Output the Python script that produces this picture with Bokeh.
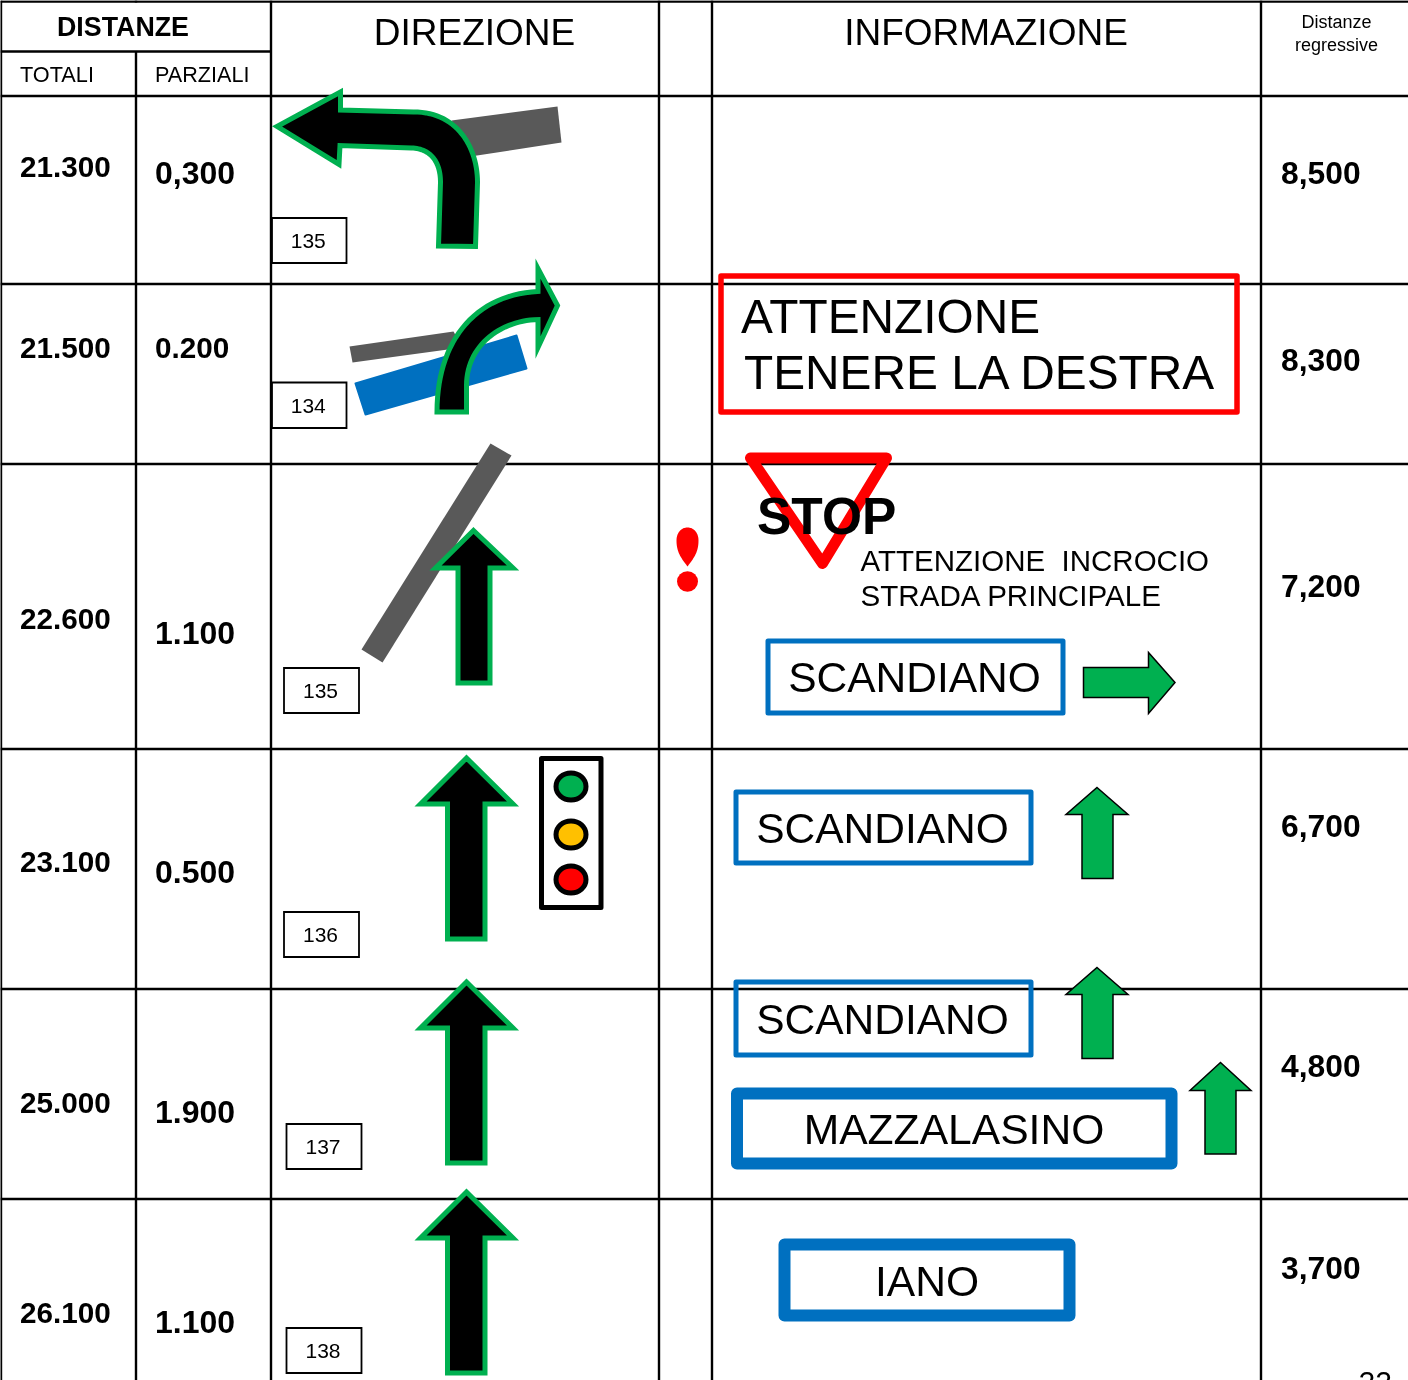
from bokeh.plotting import figure
from bokeh.embed import file_html
from bokeh.resources import INLINE
from bokeh.core.properties import value
import numpy as np

totals = ["21.300", "21.500", "22.600", "23.100", "25.000", "26.100"]
partials = ["0,300", "0.200", "1.100", "0.500", "1.900", "1.100"]
regressive = ["8,500", "8,300", "7,200", "6,700", "4,800", "3,700"]
box_numbers = ["135", "134", "135", "136", "137", "138"]
headers = ["DIREZIONE", "INFORMAZIONE"]
warning_lines = ["ATTENZIONE", "TENERE LA DESTRA"]
crossing_lines = ["ATTENZIONE \u00a0INCROCIO", "STRADA PRINCIPALE"]
places = ["SCANDIANO", "SCANDIANO", "SCANDIANO", "MAZZALASINO", "IANO"]

FONT = "Liberation Sans"
BLACK, GREEN, BLUE, RED, GREY, AMBER = "#000000", "#00B050", "#0070C0", "#FF0000", "#595959", "#FFC000"

p = figure(width=1408, height=1380, x_range=(0, 1408), y_range=(1380, 0),
           x_axis_type=None, y_axis_type=None, toolbar_location=None,
           output_backend="svg", min_border=0, outline_line_color=None,
           background_fill_color="#FFFFFF", border_fill_color="#FFFFFF",
           styles={"position": "fixed", "left": "0px", "top": "0px"})
p.grid.visible = False


def txt(x, y, s, size, bold=False, align="left", color=BLACK):
    # y is the wanted baseline; the svg output centres capitals on the given y
    p.text([x], [y - 0.36 * size], text=[s], text_font=value(FONT), text_font_size=f"{size}px",
           text_font_style="bold" if bold else "normal", text_align=align,
           text_baseline="alphabetic", text_color=color)


def seg(x0, y0, x1, y1, w=2.4):
    p.segment([x0], [y0], [x1], [y1], line_color=BLACK, line_width=w)


def curve(a, b, c, d, n=30):
    t = np.linspace(0, 1, n)[1:]
    a, b, c, d = map(np.array, (a, b, c, d))
    return [tuple(v) for v in ((1-t)[:, None]**3*a + 3*((1-t)**2*t)[:, None]*b
                               + 3*((1-t)*t**2)[:, None]*c + (t**3)[:, None]*d)]


def poly(pts, fill=None, line=None, w=0, join="miter"):
    xs, ys = zip(*pts)
    p.patch(list(xs), list(ys), fill_color=fill, line_color=line, line_width=w, line_join=join)


def frame(x0, y0, x1, y1, color, w):
    poly([(x0, y0), (x1, y0), (x1, y1), (x0, y1)], None, color, w, "round")


def up_arrow(tip_x, tip_y, wx0, wx1, wy, sx0, sx1, by, fill, line, w):
    poly([(tip_x, tip_y), (wx1, wy), (sx1, wy), (sx1, by), (sx0, by), (sx0, wy), (wx0, wy)],
         fill, line, w)


def number_box(x0, y0, x1, y1, s):
    poly([(x0, y0), (x1, y0), (x1, y1), (x0, y1)], "#FFFFFF", BLACK, 1.8)
    txt((x0 + x1) / 2 - 1, y0 + 31, s, 21, align="center")


# table rules
for x in (0.5, 135.5, 270.5, 658.5, 711.5, 1260.5):
    seg(x, 51 if x == 135.5 else 0, x, 1380)
seg(135.5, 0, 135.5, 2)
for y in (95.5, 283.5, 463.5, 748.5, 988.5, 1198.5):
    seg(0, y, 1408, y)
seg(0, 1, 1408, 1)
seg(0, 51, 271, 51)

# headers
txt(56.5, 36, "DISTANZE", 26.8, True)
txt(19.5, 82, "TOTALI", 21.7)
txt(154.5, 82, "PARZIALI", 21.6)
txt(474, 45.5, headers[0], 37, align="center")
txt(985.5, 45.5, headers[1], 37, align="center")
txt(1336, 28, "Distanze", 18, align="center")
txt(1336, 51, "regressive", 18, align="center")

# distance columns
for s, y in zip(totals, (177, 358, 629.5, 872.5, 1113.5, 1323.5)):
    txt(19.5, y, s, 29.7, True)
for s, y, size in zip(partials, (184, 358.5, 644, 883, 1123, 1333), (32, 29.7, 32, 32, 32, 32)):
    txt(154.5, y, s, size, True)
for s, y in zip(regressive, (184, 371, 597, 837, 1077, 1279)):
    txt(1280.5, y, s, 31.8, True)
txt(1358, 1392, "22", 30)

# road stubs
poly([(451, 120), (557, 106), (561, 142), (470, 156)], GREY)
poly([(349, 346), (453, 331), (462, 347), (352, 362)], GREY)
poly([(355, 383), (516, 335), (526, 368), (365, 414)], BLUE, BLUE, 2, "round")
poly([(490, 443), (511, 455), (382, 662), (361, 649)], GREY)

# bent arrows
left_turn = [(276.5, 126), (340, 91.5), (340, 109.5), (413, 111.5)]
left_turn += curve((413, 111.5), (455, 111), (477, 145), (477, 182))
left_turn += [(475, 246), (438, 245.5), (440, 182)]
left_turn += curve((440, 182), (440, 160), (429, 148), (411, 147.5))
left_turn += [(339.5, 145), (338.5, 164)]
poly(left_turn, BLACK, GREEN, 5)

right_turn = [(557, 305), (537.5, 268), (537.5, 291)]
right_turn += curve((537.5, 291), (475, 294), (436.5, 340), (436.5, 411.5))
right_turn += [(466, 411.5), (466, 385)]
right_turn += curve((466, 385), (466, 345), (500, 320), (537.5, 319))
right_turn += [(537.5, 347)]
poly(right_turn, BLACK, GREEN, 5)

# straight arrows
up_arrow(473, 530, 435, 512.5, 567.5, 457.5, 489.5, 682.5, BLACK, GREEN, 5)
for dy in (0, 224, 434):
    up_arrow(466, 757.5 + dy, 420, 512.5, 803.5 + dy, 447, 484.5, 938.5 + dy, BLACK, GREEN, 5)

# number boxes
number_box(271.5, 217.5, 346, 262.5, box_numbers[0])
number_box(271.5, 382, 346, 427.5, box_numbers[1])
number_box(283.5, 667.5, 358.5, 712.5, box_numbers[2])
number_box(283.5, 911.5, 358.5, 956.5, box_numbers[3])
number_box(286, 1123.5, 361, 1168.5, box_numbers[4])
number_box(286, 1327.5, 361, 1372.5, box_numbers[5])

# traffic light
frame(541, 758, 600.5, 907, BLACK, 5)
for cy, c in zip((786, 834, 879), (GREEN, AMBER, RED)):
    p.ellipse([570.5], [cy], width=30, height=27, fill_color=c, line_color=BLACK, line_width=5)

# exclamation mark
drop = [(687, 566)]
drop += curve((687, 566), (681, 558), (676, 552), (676, 540))
drop += curve((676, 540), (676, 532), (681, 527), (687, 527))
drop += curve((687, 527), (693, 527), (698, 532), (698, 540))
drop += curve((698, 540), (698, 552), (693, 558), (687, 566))
poly(drop, RED)
p.ellipse([687], [581], width=21, height=20.5, fill_color=RED, line_color=None)

# warning box
frame(720.5, 275.5, 1236.5, 411.5, RED, 5.5)
txt(740.5, 333, warning_lines[0], 47.8)
txt(743.5, 389, warning_lines[1], 47.8)

# give-way sign
poly([(750, 457.5), (886, 457.5), (822, 563)], None, RED, 11, "round")
txt(756.5, 534, "STOP", 51.5, True)
txt(860, 571, crossing_lines[0], 29.5)
txt(860, 606, crossing_lines[1], 29.6)

# place signs
frame(767.5, 640.5, 1062.5, 712.5, BLUE, 5)
txt(914, 692, places[0], 42.5, align="center")
frame(735.5, 791.5, 1030.5, 862.5, BLUE, 5)
txt(882, 843, places[1], 42.5, align="center")
frame(735.5, 981.5, 1030.5, 1054.5, BLUE, 5)
txt(882, 1034, places[2], 42.5, align="center")
frame(736.5, 1093, 1171, 1163, BLUE, 12)
txt(953.5, 1144, places[3], 42.6, align="center")
frame(784, 1244, 1069, 1315, BLUE, 12)
txt(926.5, 1296, places[4], 42.6, align="center")

# green direction arrows
poly([(1083, 667), (1148, 667), (1148, 652), (1174.5, 682), (1148, 713), (1148, 697), (1083, 697)],
     GREEN, BLACK, 1.5)
up_arrow(1096.5, 787, 1065.5, 1127.5, 814, 1081.5, 1112.5, 878, GREEN, BLACK, 1.5)
up_arrow(1096.5, 967, 1065.5, 1127.5, 994, 1081.5, 1112.5, 1058, GREEN, BLACK, 1.5)
up_arrow(1220, 1062, 1189.5, 1250.5, 1090, 1204.5, 1235.5, 1153.5, GREEN, BLACK, 1.5)

open("out.html", "w").write(file_html(p, INLINE))
